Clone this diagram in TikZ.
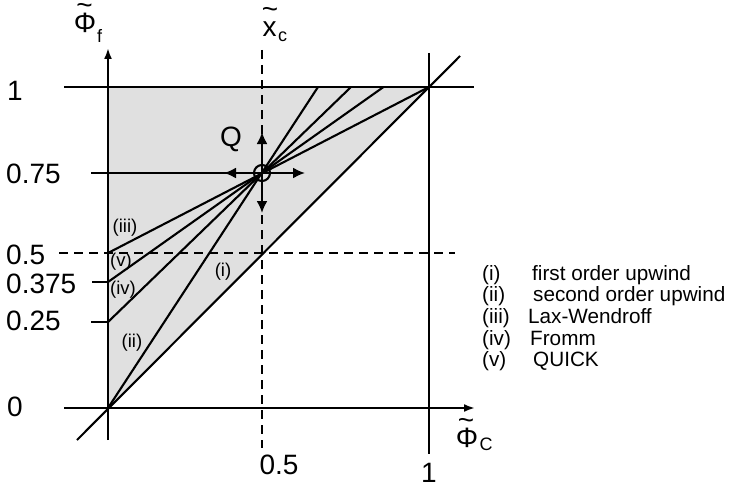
\documentclass[tikz,border=0pt]{standalone}
\usepackage{fontspec}
\setmainfont{Liberation Sans}
\usetikzlibrary{arrows.meta}
\begin{document}
\begin{tikzpicture}[x=1pt,y=-1pt,
  ln/.style={line width=2.1pt},
  dsh/.style={line width=2pt, dash pattern=on 9pt off 6pt},
  axarr/.style={ln,-{Latex[length=11pt,width=8pt]}},
  qarr/.style={ln,-{Latex[length=12pt,width=11pt]}},
  num/.style={inner sep=0pt, font=\fontsize{28}{30}\selectfont},
  big/.style={inner sep=0pt, font=\fontsize{28}{30}\selectfont},
  subs/.style={inner sep=0pt, font=\fontsize{18}{20}\selectfont},
  tl/.style={inner sep=0pt, anchor=base, text height=0.45em, text depth=-0.2em, font=\fontsize{28}{30}\selectfont},
  lab/.style={inner sep=0pt, font=\fontsize{18.5}{20}\selectfont},
  leg/.style={inner sep=0pt, anchor=base west, font=\fontsize{20.7}{22}\selectfont},
]
\useasboundingbox (0,0) rectangle (733,487);
% coordinates
\coordinate (O) at (108,408);
\coordinate (Ytop) at (108,48);
\coordinate (Ybot) at (108,440);
\coordinate (Xleft) at (64,408);
\coordinate (Xright) at (475,408);
\coordinate (V1top) at (429,53);
\coordinate (V1bot) at (429,454);
\coordinate (H1left) at (64,87);
\coordinate (H1right) at (474,87);
\coordinate (C11) at (429,87);
\coordinate (Y1) at (108,87);
\coordinate (Dstart) at (77,440);
\coordinate (Dend) at (460,56);
\coordinate (Q) at (262,173);
\coordinate (Qleft) at (224,173);
\coordinate (Qright) at (305,173);
\coordinate (Qup) at (262,132);
\coordinate (Qdown) at (262,213);
\coordinate (L75) at (91,173);
\coordinate (DVtop) at (262,50);
\coordinate (DVbot) at (262,448);
\coordinate (DHleft) at (59,253);
\coordinate (DHright) at (455,253);
\coordinate (T375) at (92,282);
\coordinate (A375) at (108,282);
\coordinate (T25) at (91,322);
\coordinate (A25) at (108,322);
\coordinate (A5) at (108,253);
\coordinate (Eii) at (318,87);
\coordinate (Eiv) at (351,87);
\coordinate (Ev) at (383.5,87);
% shaded region
\fill[black!12] (O) -- (Y1) -- (C11) -- cycle;
% dashed lines
\draw[dsh] (DVtop) -- (DVbot);
\draw[dsh] (DHleft) -- (DHright);
% frame lines
\draw[ln] (H1left) -- (H1right);
\draw[ln] (V1top) -- (V1bot);
\draw[ln] (Dstart) -- (Dend);
\draw[ln] (L75) -- (Q);
\draw[ln] (T375) -- (A375);
\draw[ln] (T25) -- (A25);
% scheme lines
\draw[ln] (O) -- (Eii);
\draw[ln] (A25) -- (Eiv);
\draw[ln] (A375) -- (Ev);
\draw[ln] (A5) -- (C11);
% axes
\draw[axarr] (Ybot) -- (Ytop);
\draw[axarr] (Xleft) -- (Xright);
% Q arrows
\draw[qarr] (Q) -- (Qleft);
\draw[qarr] (Q) -- (Qright);
\draw[qarr] (Q) -- (Qup);
\draw[qarr] (Q) -- (Qdown);
\draw[ln] (Q) circle[radius=8pt];
% axis tick labels
\node[num, anchor=west] (l1) at (7,90.5) {1};
\node[num, anchor=west] (l075) at (6,173.5) {0.75};
\node[num, anchor=west] (l05) at (6,255) {0.5};
\node[num, anchor=west] (l0375) at (6,283.5) {0.375};
\node[num, anchor=west] (l025) at (6,321) {0.25};
\node[num, anchor=west] (l0) at (7,407) {0};
\node[num] (b05) at (279,465) {0.5};
\node[num] (b1) at (429,472.5) {1};
\node[num] (q) at (231,139) {Q};
% axis titles
\node[big] (phif) at (85,23) {Φ};
\node[tl] (phift) at (84.5,15) {\char"7E};
\node[subs] (phifs) at (99.5,36) {f};
\node[big] (xc) at (269.5,29) {x};
\node[tl] (xct) at (270,19) {\char"7E};
\node[subs] (xcs) at (282.5,37) {c};
\node[big] (phic) at (467,437.5) {Φ};
\node[tl] (phict) at (466,429.5) {\char"7E};
\node[subs] (phics) at (486,444.5) {C};
% scheme labels
\node[lab] (liii) at (125,228) {(iii)};
\node[lab] (lv) at (121,262) {(v)};
\node[lab] (liv) at (123,290) {(iv)};
\node[lab] (lii) at (132,343) {(ii)};
\node[lab] (li) at (223,272) {(i)};
% legend
\node[leg] (g1) at (482,280) {(i)};
\node[leg] (g1t) at (532,280) {first order upwind};
\node[leg] (g2) at (482,301.5) {(ii)};
\node[leg] (g2t) at (533,301.5) {second order upwind};
\node[leg] (g3) at (482,323) {(iii)};
\node[leg] (g3t) at (528,323) {Lax-Wendroff};
\node[leg] (g4) at (482,345) {(iv)};
\node[leg] (g4t) at (530,345) {Fromm};
\node[leg] (g5) at (482,366.5) {(v)};
\node[leg] (g5t) at (533,366.5) {QUICK};
\end{tikzpicture}
\end{document}
